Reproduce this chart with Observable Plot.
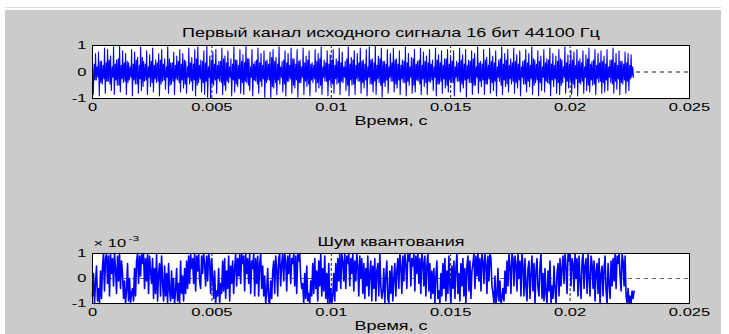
<!DOCTYPE html>
<html>
<head>
<meta charset="utf-8">
<script src="https://cdn.jsdelivr.net/npm/d3@7"></script>
<script src="https://cdn.jsdelivr.net/npm/@observablehq/plot@0.6"></script>
<style>
  body { margin: 0; background: #fff; }
  #fig { position: relative; width: 729px; height: 334px; background: #fff; overflow: hidden; }
  .panel { position: absolute; left: 0; }
</style>
</head>
<body>
<div id="fig">
  <div style="position:absolute;left:5px;top:7px;width:716px;height:1px;background:#dcdcdc"></div>
  <div style="position:absolute;left:5px;top:10px;width:716px;height:324px;background:#cbcbcb"></div>
  <div id="p1" class="panel" style="top:0px"></div>
  <div id="p2" class="panel" style="top:208px"></div>
</div>
<script>
// ---- texts ----
const title1 = "Первый канал исходного сигнала 16 бит 44100 Гц";
const title2 = "Шум квантования";
const xLabel = "Время, с";
const exponentBase = "× 10";
const exponentPow = "-3";

// ---- axes ----
const xTicks = [0, 0.005, 0.01, 0.015, 0.02, 0.025];
const xTickLabels = ["0", "0.005", "0.01", "0.015", "0.02", "0.025"];
const yTicks = [-1, 0, 1];
const yTickLabels = ["-1", "0", "1"];
const tEnd = 0.02268; // last sample time (1000 samples at 44100 Hz)

// ---- signal: per cycle a peak and a trough (percent of full scale) ----
const signalPct = [
  20,-85,70,-30,75,-90,40,-45,90,-80,85,-35,60,-70,95,-85,45,-50,100,-75,
  80,-40,70,-85,35,-30,85,-90,75,-45,55,-80,95,-70,40,-35,80,-85,65,-55,
  90,-75,45,-40,70,-90,85,-35,50,-65,95,-80,35,-45,75,-85,60,-30,85,-75,
  70,-60,40,-80,90,-45,55,-70,85,-90,95,-40,45,-75,80,-85,100,-95,60,-100,
  75,-50,85,-80,40,-35,90,-85,60,-70,80,-40,50,-90,95,-75,45,-55,85,-80,
  65,-85,100,-40,50,-70,85,-90,40,-35,90,-80,70,-55,80,-95,45,-30,75,-100,
  85,-60,55,-85,95,-45,40,-75,80,-90,70,-35,90,-80,50,-60,85,-95,45,-40,
  90,-85,60,-55,80,-90,35,-40,85,-75,70,-60,95,-85,45,-35,80,-90,65,-50,
  85,-80,50,-45,90,-85,75,-40,40,-70,95,-90,55,-50,80,-85,70,-35,90,-80,
  45,-60,85,-90,95,-45,50,-75,100,-85,60,-40,90,-95,40,-55,85,-80,70,-35,
  90,-75,50,-60,80,-85,45,-40,95,-90,70,-50,55,-80,85,-75,40,-35,90,-85,
  75,-55,60,-85,85,-40,45,-70,90,-90,65,-45,80,-80,50,-60,85,-75,55,-40,
  80,-90,40,-35,90,-75,65,-60,85,-95,45,-40,80,-85,70,-50,95,-80,40,-55,
  85,-85,55,-45,90,-80,60,-70,80,-90,45,-35,95,-85,70,-55,85,-75,50,-45,
  90,-80,65,-60,80,-90,40,-45,85,-75,70,-55,95,-85,45,-40,80,-90,60,-70,
  85,-75,50,-40,90,-90,70,-55,60,-80,85,-85,45,-40,95,-80,65,-60,80,-85,
  75,-60,85,-90,50,-45,80,-80,65,-70,90,-75,40,-50,85,-85,70,-40,80,-80,
  60,-75,85,-70,45,-40,90,-80,70,-65,80,-85,40,-45,75,-80,70,-70,65,-20
];
// ---- signal: small inner swing of each cycle (percent) ----
const innerPct = [
  30,20,40,25,35,45,20,30,50,25,35,40,20,30,45,25,55,30,20,40,
  25,35,45,30,20,50,35,25,40,30,45,20,35,30,50,25,40,35,20,45,
  30,25,40,50,35,20,30,45,25,40,35,50,20,30,45,35,25,40,30,55,
  40,30,20,45,35,25,50,30,40,20,35,45,30,25,40,50,20,35,30,45,
  25,40,35,20,50,30,45,25,35,40,30,20,45,35,25,50,40,30,20,35,
  45,30,25,40,35,20,50,30,45,25,40,35,30,20,45,35,25,50,30,40,
  20,35,45,30,25,40,50,20,35,30,45,25,40,35,20,50,30,45,25,35,
  40,30,20,45,35,25,50,30,40,20,35,45,30,25,40,50,20,35,30,45,
  25,40,35,20,50,30,45,25,35,40,30,20,45,35,25,40,30,35,25,20
];

// ---- quantization noise (tenths of 1e-3), read left to right ----
const noiseTenths = [
  -7,2,-10,-2,5,-9,-4,-10,3,-8,    5,10,-5,8,10,-2,9,-7,10,2,
  8,-3,10,4,-6,9,-1,10,-4,7,       2,-8,-1,-10,-5,6,-9,0,-10,-6,
  -4,-9,4,-7,7,10,-2,9,1,10,       6,10,-4,8,-1,10,-6,9,3,-2,
  8,-8,4,-6,10,-9,2,6,-7,9,        -1,-9,5,-7,2,-10,6,-5,-9,3,
  -8,0,-10,-5,4,-9,-2,-10,7,-6,    1,-9,4,-6,7,-4,9,-2,10,4,
  8,-2,10,-5,9,3,10,-1,-4,9,       2,10,6,-3,9,-1,10,7,-6,8,
  1,-8,3,-10,-5,-7,4,-10,-2,-6,    7,-5,8,-8,3,-4,9,-9,5,-2,
  7,-6,4,10,-3,8,1,10,-2,10,       6,9,-5,10,2,8,-2,10,-6,7,
  4,10,-7,8,-2,9,-7,6,10,-4,       5,-7,1,-10,-5,4,-9,-10,-1,-8,
  3,7,-6,9,4,-7,8,10,-3,6,         10,-1,10,7,-5,9,2,10,-2,8,
  6,10,-3,9,-6,10,7,10,0,-4,       -2,-10,2,-8,5,-9,-6,-10,-1,-7,
  6,-6,8,-4,3,-9,7,-3,10,-7,       4,-5,9,-8,2,-10,6,-10,-4,-10,
  -7,2,-9,6,-5,8,-1,10,-4,10,      7,-1,10,-4,9,6,10,-3,8,2,
  10,-5,7,-1,10,5,-7,9,0,8,        -6,6,-8,4,-3,9,-7,2,7,-9,
  5,-4,8,-9,3,6,-7,10,-3,-8,       -5,4,-10,1,7,-8,-10,3,-6,5,
  -9,0,6,-7,3,8,-4,10,5,-6,        9,-1,10,6,-4,10,7,10,-3,8,
  5,10,-5,9,2,10,-2,8,-6,10,       7,-3,9,-7,5,10,-5,6,-8,3,
  -6,4,-10,1,7,-8,-5,-10,2,-7,     6,-4,8,-9,3,-6,9,-3,-10,5,
  -4,7,-8,4,10,-6,2,-9,6,-3,       8,-7,4,-10,5,9,-5,7,-8,3,
  6,10,-4,9,1,10,-1,8,-5,10,       7,-2,10,6,-6,9,-1,10,8,-3,
  -6,-10,1,-10,-7,4,-9,-1,-10,-8,  -4,-9,3,-6,7,-3,10,5,-6,10,
  8,-3,9,6,-5,10,0,7,-7,10,        5,-7,8,-3,-9,4,7,-8,2,9,
  -5,6,-10,3,8,-4,-7,5,10,-8,      2,-9,4,-6,-10,3,-5,7,-10,-3,
  -8,5,-4,-10,2,6,-7,8,-3,4,       9,-2,10,5,-6,10,7,10,-3,8,
  6,-5,10,0,8,-7,9,-1,-8,7,        10,-4,5,8,-6,10,0,-7,9,6,
  -4,7,-9,3,6,-6,8,-10,2,5,        -7,4,9,-5,-10,6,-2,-8,7,-3,
  8,-1,10,-4,9,6,10,1,-5,10,       7,-3,9,-7,-10,-4,-10,-7,-10,-5,
  -8,-5
];

// ---- build tables ----
const nCycles = innerPct.length;
const T = tEnd / nCycles;
const signal = [];
for (let i = 0; i < nCycles; i++) {
  const t0 = i * T;
  signal.push({t: t0, v: signalPct[2 * i] / 100});
  signal.push({t: t0 + 0.25 * T, v: signalPct[2 * i + 1] / 100});
  signal.push({t: t0 + 0.55 * T, v: innerPct[i] / 100});
  signal.push({t: t0 + 0.8 * T, v: -innerPct[i] / 100});
}
const noise = noiseTenths.map((v, i) => ({t: i * tEnd / (noiseTenths.length - 1), v: v / 10}));

const FONT = "'Liberation Sans', Arial, sans-serif";
const STRETCH = 1.5;

function stretchText(svg, k) {
  svg.querySelectorAll("text").forEach(t => {
    let tx = 0, ty = 0;
    if (t.hasAttribute("x")) { tx = parseFloat(t.getAttribute("x")) || 0; t.removeAttribute("x"); }
    const yA = t.getAttribute("y");
    if (yA != null && !/em/.test(yA)) { ty = parseFloat(yA) || 0; t.removeAttribute("y"); }
    const tr = t.getAttribute("transform") || "";
    t.setAttribute("transform", `${tr} translate(${tx},${ty}) scale(${k},1)`);
  });
}

function panel(data, opts) {
  const svg = Plot.plot({
    width: 729,
    height: opts.height,
    marginLeft: 92,
    marginRight: 40,
    marginTop: 45,
    marginBottom: opts.marginBottom,
    style: {background: "transparent", fontFamily: FONT, fontSize: "11px", color: "black"},
    x: {domain: [0, 0.025]},
    y: {domain: [-1, 1]},
    marks: [
      Plot.frame({fill: "white", stroke: "none"}),
      Plot.ruleX(xTicks.slice(1, -1), {stroke: "#222", strokeDasharray: "3,2"}),
      Plot.ruleY([0], {stroke: opts.zeroColor, strokeDasharray: "4,4"}),
      Plot.line(data, {x: "t", y: "v", stroke: "#0000ff", strokeWidth: opts.lineWidth}),
      Plot.frame({stroke: "black", strokeWidth: 1}),
      Plot.axisX({ticks: xTicks, tickFormat: d => xTickLabels[xTicks.indexOf(d)], tickSize: 0, tickPadding: 5, label: null, fontSize: 11}),
      Plot.axisY({ticks: yTicks, tickFormat: d => yTickLabels[yTicks.indexOf(d)], tickSize: 0, tickPadding: 6, label: null, fontSize: 11}),
      Plot.text([opts.title], {frameAnchor: "top", lineAnchor: "middle", dy: opts.titleDy, fontSize: 12, fill: "black"}),
      Plot.text([xLabel], {frameAnchor: "bottom", lineAnchor: "middle", dy: 23, fontSize: 12, fill: "black"}),
      ...(opts.exponent ? [
        Plot.text([exponentBase], {frameAnchor: "top-left", lineAnchor: "middle", textAnchor: "start", dx: 1, dy: -10, fontSize: 11, fill: "black"}),
        Plot.text([exponentPow], {frameAnchor: "top-left", lineAnchor: "middle", textAnchor: "start", dx: 36, dy: -15, fontSize: 8, fill: "black"})
      ] : [])
    ]
  });
  stretchText(svg, STRETCH);
  return svg;
}

document.getElementById("p1").appendChild(panel(signal, {height: 130, marginBottom: 32, title: title1, titleDy: -12, zeroColor: "#111", lineWidth: 1.1}));
document.getElementById("p2").appendChild(panel(noise, {height: 126, marginBottom: 31, title: title2, titleDy: -11, zeroColor: "#666", exponent: true, lineWidth: 1.6}));
</script>
</body>
</html>
